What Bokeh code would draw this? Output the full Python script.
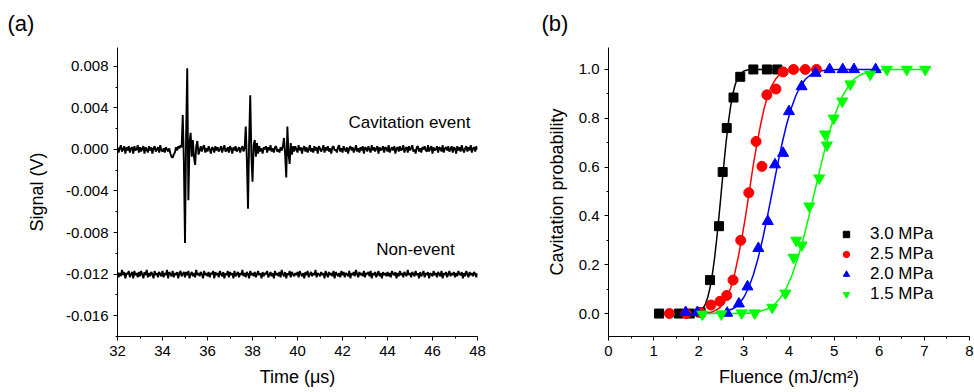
import numpy as np
from bokeh.plotting import figure
from bokeh.layouts import row
from bokeh.models import Range1d, FixedTicker, Label, Legend, LegendItem, Title
from bokeh.embed import file_html
from bokeh.resources import INLINE

FONT = "Liberation Sans"

# ---------------- Panel (a): oscilloscope traces (values in mV) ----------------
time_start_us = 32.0
time_end_us = 48.0

event_mV = [
    # 32.00 - 34.30 baseline
    0.2, -0.3, 0.1, 0.4, -0.2, 0.0, 0.3, -0.4, 0.2, -0.1,
    0.3, -0.3, 0.1, 0.2, -0.4, 0.3, -0.1, 0.0, 0.4, -0.3,
    0.2, -0.2, 0.1, 0.3, -0.4, 0.2, 0.0, -0.3, 0.3, -0.1,
    0.2, -0.4, 0.1, 0.3, -0.2, 0.0, 0.2, -0.3, 0.4, -0.1,
    -0.2, 0.1, -0.3, 0.2, 0.0, -0.2, 0.1,
    # small dip
    -0.4, -0.7, -0.8, -0.5, -0.3,
    0.2, -0.1, 0.3, 0.1, 0.4, 0.2,
    # first burst
    3.3, -1.2, -9.0, 1.5, 7.8, -4.9, 0.6, 1.6, -0.7, 0.9, -0.8, -1.5, 0.3, 0.8, -0.5,
    # baseline
    -0.1, 0.3, -0.2, 0.2, 0.4, -0.3, 0.1, -0.2, 0.3, 0.0,
    -0.4, 0.2, 0.1, -0.3, 0.3, -0.1, 0.2, -0.2, 0.0, 0.3,
    -0.3, 0.1, 0.4, -0.2, -0.1, 0.2, -0.3, 0.3, 0.1, -0.4,
    0.2, -0.1, 0.3, -0.2, 0.0, 0.2, -0.3, 0.1, 0.3, -0.2,
    0.1,
    # second burst
    2.2, -1.0, -5.7, 0.8, 5.2, -0.6, -3.1, 0.4, 0.9, -0.7, 0.6, -0.4,
    # baseline
    0.3, -0.2, 0.1, -0.4, 0.2, 0.0, 0.3, -0.3, 0.2, -0.1, 0.4, -0.2, 0.1, -0.3, 0.2, 0.3,
    -0.2, 0.0, -0.3, 0.2, -0.1, 0.3,
    # third burst
    1.1, -0.5, -2.7, 2.2, -0.4, -1.4, 0.6, -0.5, 0.3,
    # baseline to the end
    -0.2, 0.3, 0.0, -0.3, 0.4, -0.1, 0.2, -0.4, 0.1, 0.3, -0.2, 0.2, -0.3, 0.0, 0.4, -0.2, 0.1, -0.3, 0.3, -0.1,
    0.2, -0.4, 0.3, 0.1, -0.2, 0.0, 0.4, -0.3, 0.2, -0.1, 0.3, -0.2, 0.1, -0.4, 0.2, 0.3, -0.1, 0.0, -0.3, 0.2,
    0.4, -0.2, 0.1, -0.3, 0.3, 0.0, -0.2, 0.2, -0.4, 0.1, 0.3, -0.1, 0.2, -0.3, 0.0, 0.4, -0.2, 0.1, -0.3, 0.2,
    -0.1, 0.3, -0.4, 0.2, 0.1, -0.2, 0.3, 0.0, -0.3, 0.4, -0.1, 0.2, -0.2, 0.1, 0.3, -0.4, 0.2, -0.1, 0.0, 0.3,
    -0.3, 0.2, 0.1, -0.2, 0.4, -0.3, 0.0, 0.2, -0.1, 0.3, -0.4, 0.1, 0.2, -0.2, 0.3, -0.1, 0.0, 0.4, -0.3, 0.1,
    0.2, -0.3, 0.3, -0.1, 0.1, 0.4, -0.2, 0.0, -0.4, 0.2, 0.3, -0.2, 0.1, -0.3, 0.2, 0.0, 0.3, -0.1, -0.2, 0.4,
    -0.2, 0.1, 0.3, -0.4, 0.2, -0.1, 0.0, 0.3, -0.3, 0.2, 0.1, -0.2, 0.4, -0.3, 0.1, 0.2, -0.1, 0.3, -0.2, 0.0,
    0.3, -0.3, 0.2, 0.1, -0.4, 0.3, -0.1, 0.2, -0.2, 0.4, 0.0, -0.3, 0.1, 0.3, -0.2, 0.2, -0.1, 0.4, -0.3, 0.1,
    0.2, -0.2, 0.3, 0.0,
]

nonevent_mV = [
    -11.8, -12.3, -11.9, -12.2, -11.6, -12.1, -11.8, -12.4, -11.9, -12.0, -11.7, -12.3, -12.0, -11.8, -12.4, -11.7, -12.1, -11.9, -12.3, -11.8,
    -12.2, -11.7, -12.0, -12.4, -11.8, -12.1, -11.6, -12.3, -11.9, -12.2, -11.8, -12.0, -12.4, -11.7, -12.1, -11.9, -12.3, -11.8, -12.0, -12.2,
    -11.7, -12.3, -11.9, -12.1, -11.6, -12.4, -11.8, -12.0, -12.2, -11.7, -12.3, -11.9, -12.1, -11.8, -12.4, -11.9, -11.7, -12.2, -12.0, -11.8,
    -12.3, -11.8, -12.1, -11.7, -12.4, -12.0, -11.8, -12.2, -11.9, -12.3, -11.6, -12.1, -11.9, -12.2, -11.8, -12.0, -12.4, -11.7, -12.1, -11.9,
    -12.2, -11.8, -12.3, -11.9, -12.0, -11.7, -12.4, -11.8, -12.1, -11.9, -12.3, -11.7, -12.0, -12.2, -11.8, -12.4, -11.9, -12.1, -11.7, -12.3,
    -11.8, -12.1, -11.9, -12.4, -11.7, -12.2, -12.0, -11.8, -12.3, -11.9, -12.1, -11.6, -12.2, -11.9, -12.3, -11.8, -12.0, -12.4, -11.7, -12.1,
    -11.9, -12.2, -11.8, -12.3, -12.0, -11.7, -12.1, -11.9, -12.4, -11.8, -12.2, -11.9, -12.0, -11.7, -12.3, -12.1, -11.8, -12.2, -11.9, -12.4,
    -11.7, -12.1, -11.9, -12.2, -11.8, -12.3, -11.6, -12.0, -12.2, -11.8, -12.4, -11.9, -12.1, -11.7, -12.3, -11.8, -12.0, -12.2, -11.9, -12.1,
    -11.8, -12.3, -11.7, -12.0, -12.2, -11.9, -12.4, -11.8, -12.1, -11.7, -12.3, -12.0, -11.8, -12.2, -11.9, -12.1, -11.6, -12.3, -11.9, -12.0,
    -12.2, -11.8, -12.1, -11.9, -12.4, -11.7, -12.0, -12.3, -11.8, -12.1, -11.9, -12.2, -11.7, -12.4, -11.8, -12.0, -12.2, -11.9, -12.3, -11.7,
    -12.1, -11.8, -12.3, -11.9, -12.0, -12.2, -11.7, -12.4, -11.9, -12.1, -11.8, -12.2, -11.6, -12.0, -12.3, -11.8, -12.1, -11.9, -12.2, -11.7,
    -12.3, -11.9, -12.0, -11.8, -12.2, -11.7, -12.4, -11.9, -12.1, -11.8, -12.3, -12.0, -11.7, -12.2, -11.9, -12.4, -11.8, -12.1, -11.9, -12.2,
    -11.8, -12.2, -11.9, -12.3, -11.7, -12.0, -12.1, -11.8, -12.4, -11.9, -12.2, -11.7, -12.1, -11.9, -12.3, -11.8, -12.0, -12.2, -11.6, -12.1,
    -11.9, -12.3, -11.8, -12.0, -12.2, -11.7, -12.1, -11.9, -12.4, -11.8, -12.2, -12.0, -11.7, -12.3, -11.9, -12.1, -11.8, -12.4, -11.9, -12.0,
    -12.2, -11.7, -12.1, -11.9, -12.3, -11.8, -12.0, -12.2, -11.7, -12.4, -11.9, -12.1, -11.8, -12.3, -12.0, -11.7, -12.2, -11.9, -12.1, -11.8,
    -12.3, -11.9, -12.2, -11.7, -12.0, -12.1, -11.8, -12.4, -11.9, -12.2, -11.7, -12.0, -12.3, -11.8, -12.1, -11.9, -12.2, -11.8, -12.0, -12.3,
    -11.9,
]

a_xticks = [32, 34, 36, 38, 40, 42, 44, 46, 48]
a_xminor = [33, 35, 37, 39, 41, 43, 45, 47]
a_yticks = [-0.016, -0.012, -0.008, -0.004, 0.0, 0.004, 0.008]
a_ytick_labels = ["-0.016", "-0.012", "-0.008", "-0.004", "0.000", "0.004", "0.008"]
a_yminor = [-0.018, -0.014, -0.010, -0.006, -0.002, 0.002, 0.006]

# ---------------- Panel (b): cavitation probability vs fluence ----------------
p30_x = [1.12, 1.56, 1.80, 2.04, 2.25, 2.45, 2.53, 2.62, 2.77, 2.92, 3.21, 3.51, 3.74]
p30_y = [0.0, 0.0, 0.0, 0.005, 0.137, 0.358, 0.58, 0.76, 0.885, 0.97, 1.0, 1.0, 1.0]
p25_x = [1.35, 1.72, 2.03, 2.27, 2.47, 2.62, 2.76, 2.93, 3.11, 3.27, 3.40, 3.51, 3.71, 3.87, 4.10, 4.36, 4.61]
p25_y = [0.0, 0.0, 0.004, 0.035, 0.05, 0.074, 0.137, 0.30, 0.495, 0.705, 0.603, 0.896, 0.92, 0.99, 1.0, 1.0, 1.0]
p20_x = [1.71, 1.97, 2.63, 2.89, 3.08, 3.32, 3.53, 3.69, 3.87, 4.00, 4.28, 4.59, 4.90, 5.19, 5.44, 5.92]
p20_y = [0.005, 0.005, 0.002, 0.04, 0.11, 0.267, 0.378, 0.61, 0.657, 0.828, 0.93, 0.985, 1.0, 1.0, 1.0, 1.0]
p15_x = [2.08, 2.50, 2.95, 3.24, 3.63, 3.92, 4.10, 4.16, 4.28, 4.45, 4.67, 4.80, 4.84, 4.99, 5.18, 5.36, 5.80, 6.17, 6.61, 7.02]
p15_y = [-0.003, -0.002, 0.002, 0.002, 0.025, 0.083, 0.23, 0.30, 0.28, 0.44, 0.555, 0.735, 0.69, 0.80, 0.87, 0.94, 0.98, 1.0, 1.0, 1.0]

# fitted curves
fit30_x = [1.15, 1.80, 1.90, 2.00, 2.10, 2.15, 2.20, 2.25, 2.30, 2.35, 2.40, 2.45, 2.50, 2.55, 2.60, 2.65, 2.70, 2.75, 2.80, 2.85, 2.90, 3.00, 3.10, 3.20, 3.80]
fit30_y = [0.0, 0.0002, 0.0013, 0.0062, 0.0228, 0.0401, 0.0668, 0.1056, 0.1587, 0.2266, 0.3085, 0.4013, 0.5, 0.5987, 0.6915, 0.7734, 0.8413, 0.8944, 0.9332, 0.9599, 0.9772, 0.9938, 0.9987, 0.9998, 1.0]
fit25_x = [1.30, 1.965, 2.13, 2.295, 2.46, 2.54, 2.625, 2.71, 2.79, 2.87, 2.955, 3.04, 3.12, 3.20, 3.285, 3.37, 3.45, 3.53, 3.615, 3.70, 3.78, 3.945, 4.11, 4.275, 4.62]
fit25_y = [0.0, 0.0002, 0.0013, 0.0062, 0.0228, 0.0401, 0.0668, 0.1056, 0.1587, 0.2266, 0.3085, 0.4013, 0.5, 0.5987, 0.6915, 0.7734, 0.8413, 0.8944, 0.9332, 0.9599, 0.9772, 0.9938, 0.9987, 0.9998, 1.0]
fit20_x = [1.70, 2.16, 2.37, 2.58, 2.79, 2.895, 3.00, 3.105, 3.21, 3.315, 3.42, 3.525, 3.63, 3.735, 3.84, 3.945, 4.05, 4.155, 4.26, 4.365, 4.47, 4.68, 4.89, 5.10, 6.00]
fit20_y = [0.0, 0.0002, 0.0013, 0.0062, 0.0228, 0.0401, 0.0668, 0.1056, 0.1587, 0.2266, 0.3085, 0.4013, 0.5, 0.5987, 0.6915, 0.7734, 0.8413, 0.8944, 0.9332, 0.9599, 0.9772, 0.9938, 0.9987, 0.9998, 1.0]
fit15_x = [2.00, 2.82, 3.07, 3.32, 3.57, 3.695, 3.82, 3.945, 4.07, 4.195, 4.32, 4.445, 4.57, 4.695, 4.82, 4.945, 5.07, 5.195, 5.32, 5.445, 5.57, 5.82, 6.07, 6.32, 7.00]
fit15_y = [0.0, 0.0002, 0.0013, 0.0062, 0.0228, 0.0401, 0.0668, 0.1056, 0.1587, 0.2266, 0.3085, 0.4013, 0.5, 0.5987, 0.6915, 0.7734, 0.8413, 0.8944, 0.9332, 0.9599, 0.9772, 0.9938, 0.9987, 0.9998, 1.0]

series_labels = ["3.0 MPa", "2.5 MPa", "2.0 MPa", "1.5 MPa"]
series_colors = ["#000000", "#FF0000", "#0000FF", "#00FF00"]
series_markers = ["square", "circle", "triangle", "inverted_triangle"]
series_sizes = [9, 10, 11, 11]

b_xticks = [0, 1, 2, 3, 4, 5, 6, 7, 8]
b_xminor = [0.5, 1.5, 2.5, 3.5, 4.5, 5.5, 6.5, 7.5]
b_yticks = [0.0, 0.2, 0.4, 0.6, 0.8, 1.0]
b_ytick_labels = ["0.0", "0.2", "0.4", "0.6", "0.8", "1.0"]
b_yminor = [0.1, 0.3, 0.5, 0.7, 0.9]


def style(p):
    p.outline_line_color = None
    p.xgrid.visible = False
    p.ygrid.visible = False
    p.background_fill_color = "white"
    p.border_fill_color = "white"
    for ax in (p.xaxis[0], p.yaxis[0]):
        ax.axis_line_color = "black"
        ax.axis_line_width = 1
        ax.major_tick_line_color = "black"
        ax.minor_tick_line_color = "black"
        ax.major_tick_out = 4
        ax.major_tick_in = 0
        ax.minor_tick_out = 2
        ax.minor_tick_in = 0
        ax.major_label_text_font = FONT
        ax.major_label_text_font_size = "15px"
        ax.major_label_text_color = "black"
        ax.major_label_standoff = 5
        ax.axis_label_text_font = FONT
        ax.axis_label_text_font_size = "18px"
        ax.axis_label_text_font_style = "normal"
        ax.axis_label_text_color = "black"


def panel_title(text, offset):
    return Title(text=text, align="left", vertical_align="top", offset=offset, standoff=19,
                 text_font=FONT, text_font_size="22px", text_font_style="normal",
                 text_color="black")


# ---------- figure (a) ----------
p1 = figure(width=540, height=392, x_range=Range1d(time_start_us, time_end_us),
            y_range=Range1d(-0.018, 0.0098), output_backend="svg", toolbar_location=None,
            min_border_left=117, min_border_right=63, min_border_top=47, min_border_bottom=56,
            x_axis_label="Time (\u03bcs)", y_axis_label="Signal (V)")
style(p1)
p1.title = panel_title("(a)", -110)
p1.xaxis[0].ticker = FixedTicker(ticks=a_xticks, minor_ticks=a_xminor)
p1.yaxis[0].ticker = FixedTicker(ticks=a_yticks, minor_ticks=a_yminor)
p1.yaxis[0].major_label_overrides = {v: s for v, s in zip(a_yticks, a_ytick_labels)}
p1.xaxis[0].axis_label_standoff = 8
p1.yaxis[0].axis_label_standoff = 16

t_event = np.linspace(time_start_us, time_end_us, len(event_mV))
t_non = np.linspace(time_start_us, time_end_us, len(nonevent_mV))
p1.line(t_event, np.array(event_mV) / 1000.0, line_color="black", line_width=1.9)
p1.line(t_non, np.array(nonevent_mV) / 1000.0, line_color="black", line_width=1.9)

p1.add_layout(Label(x=42.27, y=0.0026, text="Cavitation event", text_font=FONT,
                    text_font_size="17px", text_baseline="middle", text_align="left",
                    text_color="black"))
p1.add_layout(Label(x=43.5, y=-0.0096, text="Non-event", text_font=FONT,
                    text_font_size="17px", text_baseline="middle", text_align="left",
                    text_color="black"))

# ---------- figure (b) ----------
p2 = figure(width=434, height=392, x_range=Range1d(0, 8), y_range=Range1d(-0.094, 1.09),
            output_backend="svg", toolbar_location=None,
            min_border_left=68, min_border_right=5, min_border_top=47, min_border_bottom=56,
            x_axis_label="Fluence (mJ/cm\u00b2)", y_axis_label="Cavitation probability")
style(p2)
p2.title = panel_title("(b)", -67)
p2.xaxis[0].ticker = FixedTicker(ticks=b_xticks, minor_ticks=b_xminor)
p2.yaxis[0].ticker = FixedTicker(ticks=b_yticks, minor_ticks=b_yminor)
p2.yaxis[0].major_label_overrides = {v: s for v, s in zip(b_yticks, b_ytick_labels)}
p2.xaxis[0].axis_label_standoff = 8
p2.yaxis[0].axis_label_standoff = 9

fits = [(fit30_x, fit30_y), (fit25_x, fit25_y), (fit20_x, fit20_y), (fit15_x, fit15_y)]
points = [(p30_x, p30_y), (p25_x, p25_y), (p20_x, p20_y), (p15_x, p15_y)]

for (fx, fy), c in zip(fits, series_colors):
    p2.line(fx, fy, line_color=c, line_width=1.5)

items = []
for (px, py), c, m, s, lab in zip(points, series_colors, series_markers, series_sizes, series_labels):
    r = p2.scatter(px, py, marker=m, size=s, fill_color=c, line_color=c)
    items.append(LegendItem(label=lab, renderers=[r]))

legend = Legend(items=items, location=(230, 32), padding=0, margin=0, spacing=0,
                glyph_width=16, glyph_height=18, label_height=18, label_standoff=16,
                label_text_font=FONT, label_text_font_size="17px", label_text_color="black",
                background_fill_alpha=0, border_line_alpha=0)
p2.add_layout(legend)

layout = row(p1, p2)
open("out.html", "w").write(file_html(layout, INLINE))
